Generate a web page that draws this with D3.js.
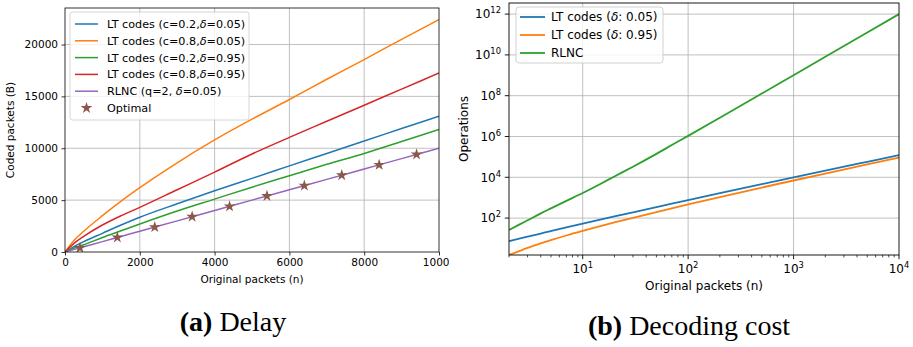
<!DOCTYPE html>
<html><head><meta charset="utf-8">
<script src="https://cdn.jsdelivr.net/npm/d3@7"></script>
<style>
body{margin:0;background:#fff;}
svg{display:block;}
text{font-family:"DejaVu Sans",sans-serif;fill:#000;}
text.cap{font-family:"Liberation Serif","DejaVu Serif",serif;}
</style>
</head><body>
<svg id="c" width="913" height="347"></svg>
<script>
// ---------- (a) Delay ----------
const delayN   = [0,250,500,1000,1500,2000,3000,4000,5000,6000,7000,8000,9000,10000];
const ltC02D05 = [0,550,1000,1800,2600,3350,4650,5900,7100,8300,9500,10700,11900,13100];
const ltC08D05 = [0,1150,2000,3500,4900,6200,8600,10800,12800,14700,16650,18550,20500,22400];
const ltC02D95 = [0,380,700,1400,2050,2700,3950,5100,6250,7350,8450,9500,10650,11800];
const ltC08D95 = [0,850,1500,2600,3500,4300,6000,7700,9450,11050,12600,14150,15700,17250];
const rlncQ2   = [0,252,502,1002,1502,2002,3002,4002,5002,6002,7002,8002,9002,10002];
const optimalN = [400,1400,2400,3400,4400,5400,6400,7400,8400,9400];
const optimalV = [400,1400,2400,3400,4400,5400,6400,7400,8400,9400];
const delayXTicks = [0,2000,4000,6000,8000,10000];
const delayYTicks = [0,5000,10000,15000,20000];
const delayLabels = ["LT codes (c=0.2,|δ|=0.05)","LT codes (c=0.8,|δ|=0.05)","LT codes (c=0.2,|δ|=0.95)","LT codes (c=0.8,|δ|=0.95)","RLNC (q=2, |δ|=0.05)","Optimal"];

// ---------- (b) Decoding cost ----------
const costN     = [2,2.5,3,4,5,7,10,15,20,30,50,70,100,200,500,1000,2000,5000,10000];
const costLT05  = [7.4,9.8,12.3,17.5,23,34.6,53,85.6,120,192,345,507,760,1660,4600,9900,21200,57500,122000];
const costLT95  = [1.55,2.42,3.45,5.75,8.3,14.0,23.5,41.4,61,103.6,198,301,465,1070,3130,6960,15300,42900,92600];
const costRLNC  = [26,48,78,170,300,700,1700,5000,11000,33000,1.4e5,3.8e5,1.07e6,8.3e6,1.27e8,1.01e9,8.03e9,1.25e11,1.0e12];
const costXTicks = [10,100,1000,10000];
const costYTicks = [1e2,1e4,1e6,1e8,1e10,1e12];
const costLabels = ["LT codes (|δ|: 0.05)","LT codes (|δ|: 0.95)","RLNC"];

const C = ["#1f77b4","#ff7f0e","#2ca02c","#d62728","#9467bd","#8c564b"];
const svg = d3.select("#c");
const defs = svg.append("defs");

function richText(sel, str){
  str.split("|").forEach((s,i)=>{
    if(!s) return;
    const t = sel.append("tspan").text(s);
    if(i%2===1) t.style("font-style","italic");
  });
}
function pow10Label(sel, v, fs){
  const e = Math.round(Math.log10(v));
  sel.append("tspan").text("10");
  sel.append("tspan").text(e).attr("font-size",fs*0.7).attr("dy",-fs*0.42);
}

// ===== Left panel =====
{
  const g = svg.append("g");
  defs.append("clipPath").attr("id","leftClip").append("rect").attr("x",0).attr("y",0).attr("width",449).attr("height",347);
  g.attr("clip-path","url(#leftClip)");
  const L=65,R=439,T=8,B=252, fs=10.5;
  const x = d3.scaleLinear().domain([0,10000]).range([L,R]);
  const y = d3.scaleLinear().domain([0,23520]).range([B,T]);
  defs.append("clipPath").attr("id","plotA").append("rect").attr("x",L).attr("y",T).attr("width",R-L).attr("height",B-T);
  g.append("g").selectAll("line").data(delayXTicks.slice(1,-1)).join("line")
    .attr("x1",d=>x(d)).attr("x2",d=>x(d)).attr("y1",T).attr("y2",B).attr("stroke","#b0b0b0").attr("stroke-width",0.8);
  g.append("g").selectAll("line").data(delayYTicks.slice(1)).join("line")
    .attr("y1",d=>y(d)).attr("y2",d=>y(d)).attr("x1",L).attr("x2",R).attr("stroke","#b0b0b0").attr("stroke-width",0.8);
  const line = d3.line().x((d,i)=>x(delayN[i])).y(d=>y(d)).curve(d3.curveMonotoneX);
  const series = [ltC02D05,ltC08D05,ltC02D95,ltC08D95,rlncQ2];
  const pg = g.append("g").attr("clip-path","url(#plotA)");
  series.forEach((s,i)=>{
    pg.append("path").attr("d",line(s)).attr("fill","none").attr("stroke",C[i]).attr("stroke-width",1.5);
  });
  const star = d3.symbol().type(d3.symbolStar).size(42);
  pg.selectAll(".st").data(optimalN).join("path").attr("d",star())
    .attr("transform",(d,i)=>`translate(${x(d)},${y(optimalV[i])})`).attr("fill",C[5]);
  const ax = g.append("g").attr("transform",`translate(0,${B})`)
    .call(d3.axisBottom(x).tickValues(delayXTicks).tickSize(3.5).tickPadding(3.5).tickFormat(d3.format("d")));
  const ay = g.append("g").attr("transform",`translate(${L},0)`)
    .call(d3.axisLeft(y).tickValues(delayYTicks).tickSize(3.5).tickPadding(3.5).tickFormat(d3.format("d")));
  [ax,ay].forEach(a=>{a.select(".domain").remove(); a.selectAll("line").attr("stroke","#000").attr("stroke-width",0.8);
    a.selectAll("text").attr("font-size",fs).attr("fill","#000");});
  g.append("rect").attr("x",L).attr("y",T).attr("width",R-L).attr("height",B-T).attr("fill","none").attr("stroke","#000").attr("stroke-width",0.8);
  g.append("text").attr("x",(L+R)/2).attr("y",283).attr("text-anchor","middle").attr("font-size",fs).text("Original packets (n)");
  g.append("text").attr("transform",`translate(14,${(T+B)/2}) rotate(-90)`).attr("text-anchor","middle").attr("font-size",fs).text("Coded packets (B)");
  const lg = g.append("g");
  lg.append("rect").attr("x",70).attr("y",12).attr("width",179).attr("height",108).attr("rx",2.5)
    .attr("fill","#fff").attr("fill-opacity",0.8).attr("stroke","#cccccc").attr("stroke-width",0.8);
  delayLabels.forEach((lab,i)=>{
    const yy = 24 + i*16.8;
    if(i<5) lg.append("line").attr("x1",75).attr("x2",98).attr("y1",yy).attr("y2",yy).attr("stroke",C[i]).attr("stroke-width",1.5);
    else lg.append("path").attr("d",star()).attr("transform",`translate(86.5,${yy})`).attr("fill",C[5]);
    const t = lg.append("text").attr("x",107).attr("y",yy).attr("dy","0.36em").attr("font-size",11.2);
    richText(t,lab);
  });
}

// ===== Right panel =====
{
  const g = svg.append("g");
  const L=509,R=899,T=3,B=255, fs=12;
  const x = d3.scaleLog().domain([2,10000]).range([L,R]);
  const y = d3.scaleLog().domain([1.55,3.5e12]).range([B,T]);
  defs.append("clipPath").attr("id","plotB").append("rect").attr("x",L).attr("y",T).attr("width",R-L).attr("height",B-T);
  g.append("g").selectAll("line").data(costXTicks.slice(0,-1)).join("line")
    .attr("x1",d=>x(d)).attr("x2",d=>x(d)).attr("y1",T).attr("y2",B).attr("stroke","#b0b0b0").attr("stroke-width",0.8);
  g.append("g").selectAll("line").data(costYTicks).join("line")
    .attr("y1",d=>y(d)).attr("y2",d=>y(d)).attr("x1",L).attr("x2",R).attr("stroke","#b0b0b0").attr("stroke-width",0.8);
  const line = d3.line().x((d,i)=>x(costN[i])).y(d=>y(d)).curve(d3.curveMonotoneX);
  const pg = g.append("g").attr("clip-path","url(#plotB)");
  [costLT05,costLT95,costRLNC].forEach((s,i)=>{
    pg.append("path").attr("d",line(s)).attr("fill","none").attr("stroke",C[i]).attr("stroke-width",1.8);
  });
  const minor = [];
  [1,10,100,1000].forEach(d=>{for(let k=2;k<=9;k++){const v=d*k; if(v>=2&&v<10000) minor.push(v);}});
  g.append("g").selectAll("line").data(minor).join("line")
    .attr("x1",d=>x(d)).attr("x2",d=>x(d)).attr("y1",B).attr("y2",B+2.4).attr("stroke","#000").attr("stroke-width",0.7);
  const xt = g.append("g").selectAll("g").data(costXTicks).join("g").attr("transform",d=>`translate(${x(d)},${B})`);
  xt.append("line").attr("y2",4.2).attr("stroke","#000").attr("stroke-width",0.9);
  xt.append("text").attr("y",18).attr("text-anchor","middle").attr("font-size",fs).each(function(d){pow10Label(d3.select(this),d,fs);});
  const yt = g.append("g").selectAll("g").data(costYTicks).join("g").attr("transform",d=>`translate(${L},${y(d)})`);
  yt.append("line").attr("x2",-4.2).attr("stroke","#000").attr("stroke-width",0.9);
  yt.append("text").attr("x",-8).attr("dy","0.36em").attr("text-anchor","end").attr("font-size",fs).each(function(d){pow10Label(d3.select(this),d,fs);});
  g.append("rect").attr("x",L).attr("y",T).attr("width",R-L).attr("height",B-T).attr("fill","none").attr("stroke","#000").attr("stroke-width",0.9);
  g.append("text").attr("x",(L+R)/2).attr("y",290).attr("text-anchor","middle").attr("font-size",fs).text("Original packets (n)");
  g.append("text").attr("transform",`translate(468,${(T+B)/2}) rotate(-90)`).attr("text-anchor","middle").attr("font-size",fs).text("Operations");
  const lg = g.append("g");
  lg.append("rect").attr("x",516).attr("y",7).attr("width",147).attr("height",56).attr("rx",3)
    .attr("fill","#fff").attr("fill-opacity",0.8).attr("stroke","#cccccc").attr("stroke-width",0.9);
  costLabels.forEach((lab,i)=>{
    const yy = 17 + i*18;
    lg.append("line").attr("x1",520).attr("x2",545).attr("y1",yy).attr("y2",yy).attr("stroke",C[i]).attr("stroke-width",1.8);
    const t = lg.append("text").attr("x",551).attr("y",yy).attr("dy","0.36em").attr("font-size",fs);
    richText(t,lab);
  });
}

// ===== captions =====
function caption(cx, cy, tag, rest){
  const t = svg.append("text").attr("class","cap").attr("x",cx).attr("y",cy).attr("text-anchor","middle")
    .attr("font-size",28);
  t.append("tspan").style("font-weight","bold").text("("+tag+")");
  t.append("tspan").text(" "+rest);
}
caption(233,331,"a","Delay");
caption(689,335,"b","Decoding cost");
</script>
</body></html>
